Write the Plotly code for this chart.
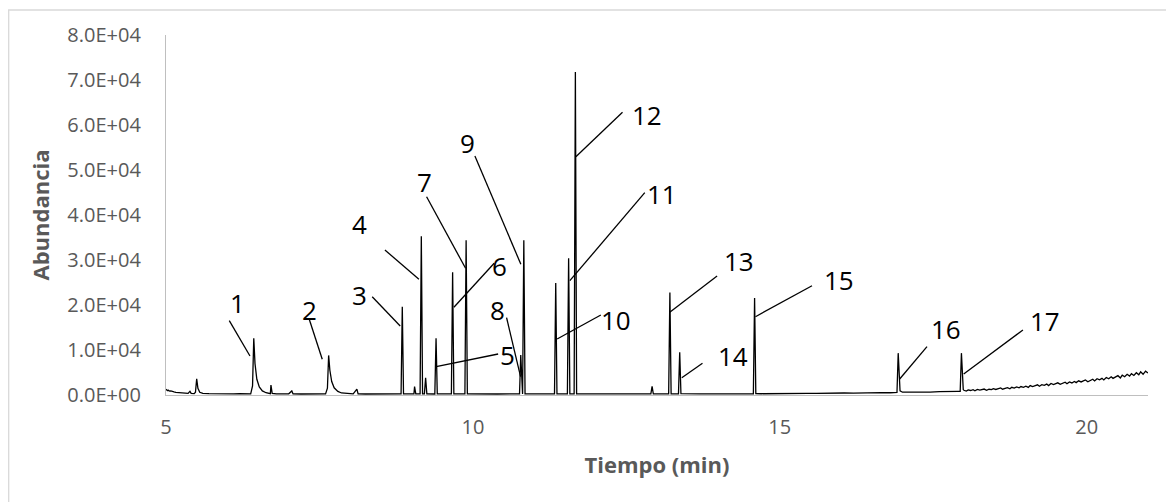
import plotly.graph_objects as go

# ---------------- data ----------------
time_min = [
    5.00, 5.02, 5.04, 5.06, 5.08, 5.10, 5.13, 5.16, 5.20, 5.24, 5.28, 5.32, 5.36, 5.39, 5.41,
    5.46, 5.48, 5.50, 5.52, 5.55, 5.60, 5.70, 5.80, 5.90, 6.00, 6.10, 6.20, 6.30, 6.38,
    6.41, 6.43, 6.45, 6.48, 6.52, 6.57, 6.63, 6.70, 6.71, 6.73, 6.80, 6.90, 7.00, 7.05, 7.07,
    7.20, 7.35, 7.50, 7.60, 7.63, 7.65, 7.67, 7.70, 7.74, 7.80, 7.86, 7.95, 8.05, 8.11, 8.13,
    8.25, 8.40, 8.55, 8.70, 8.83, 8.85, 8.87, 8.98, 9.04, 9.05, 9.07, 9.14, 9.16, 9.18, 9.21,
    9.23, 9.25, 9.38, 9.40, 9.42, 9.65, 9.67, 9.69, 9.87, 9.89, 9.91, 10.00, 10.20, 10.40,
    10.60, 10.76, 10.78, 10.80, 10.81, 10.83, 10.85, 11.00, 11.20, 11.33, 11.35, 11.37,
    11.54, 11.56, 11.58, 11.65, 11.67, 11.69, 11.80, 12.00, 12.30, 12.60, 12.90, 12.92,
    12.94, 13.10, 13.19, 13.21, 13.23, 13.35, 13.37, 13.39, 13.50, 13.70, 13.90, 14.10,
    14.30, 14.50, 14.57, 14.59, 14.61, 14.70, 14.85, 15.00, 15.15, 15.30, 15.45, 15.60,
    15.75, 15.90, 16.05, 16.20, 16.35, 16.50, 16.65, 16.80, 16.91, 16.93, 16.96, 17.00,
    17.15, 17.30, 17.45, 17.60, 17.75, 17.90, 17.94, 17.96, 17.99,
    18.00, 18.04, 18.07, 18.11, 18.15, 18.18, 18.22, 18.26, 18.30, 18.33, 18.37, 18.41,
    18.45, 18.48, 18.52, 18.56, 18.60, 18.63, 18.67, 18.71, 18.75, 18.78, 18.82, 18.86,
    18.90, 18.93, 18.97, 19.01, 19.05, 19.08, 19.12, 19.16, 19.20, 19.23, 19.27, 19.31,
    19.35, 19.38, 19.42, 19.46, 19.50, 19.53, 19.57, 19.61, 19.65, 19.68, 19.72, 19.76,
    19.80, 19.83, 19.87, 19.91, 19.95, 19.98, 20.02, 20.06, 20.10, 20.13, 20.17, 20.21,
    20.25, 20.28, 20.32, 20.36, 20.40, 20.43, 20.47, 20.51, 20.55, 20.58, 20.62, 20.66,
    20.70, 20.73, 20.77, 20.81, 20.85, 20.88, 20.92, 20.96, 21.00,
]
abundance = [
    1300, 1000, 1050, 850, 900, 750, 700, 600, 550, 450, 400, 420, 350, 800, 350,
    300, 600, 3600, 1500, 600, 350, 300, 250, 300, 250, 230, 280, 240, 260,
    2000, 12600, 7000, 3500, 1800, 900, 500, 280, 2200, 350, 260, 220, 260, 900, 250,
    220, 260, 220, 250, 1500, 8800, 5500, 3000, 1600, 800, 450, 300, 250, 1300, 250,
    220, 250, 220, 250, 230, 19600, 250, 230, 240, 1850, 250, 240, 35300, 250, 240,
    3850, 250, 230, 12600, 250, 230, 27300, 250, 240, 34400, 250, 220, 250, 220,
    250, 240, 8900, 400, 250, 34400, 250, 240, 220, 240, 24900, 250,
    240, 30400, 260, 250, 71800, 260, 240, 220, 250, 240, 230, 1900,
    250, 230, 240, 22800, 260, 250, 9500, 300, 240, 270, 240, 280,
    260, 290, 280, 21550, 330, 280, 320, 290, 340, 310, 370, 350,
    410, 380, 450, 420, 490, 460, 530, 500, 560, 9300, 900, 620,
    580, 680, 640, 740, 700, 800, 820, 9300, 1200,
    1050, 880, 1120, 1000, 1180, 940, 1230, 1080, 1150, 1320, 1060, 1280,
    1190, 1420, 1230, 1380, 1560, 1290, 1500, 1640, 1380, 1700, 1520, 1810,
    1600, 1880, 1720, 1950, 1680, 2100, 1860, 2050, 2260, 1940, 2310, 2150,
    2420, 2100, 2560, 2320, 2480, 2700, 2360, 2650, 2840, 2500, 2900, 2680,
    3020, 2750, 3150, 2900, 3080, 3350, 2950, 3300, 3500, 3120, 3620, 3380,
    3700, 3350, 3900, 3600, 4050, 3700, 3950, 4300, 3800, 4400, 4050, 4600,
    4200, 4750, 4350, 4950, 4500, 5150, 4600, 5300, 4900,
]

peak_labels = ["1", "2", "3", "4", "5", "6", "7", "8", "9",
               "10", "11", "12", "13", "14", "15", "16", "17"]

y_tick_values = [0, 10000, 20000, 30000, 40000, 50000, 60000, 70000, 80000]
x_tick_values = [5, 10, 15, 20]

# ---------------- label layout (data coordinates) ----------------
label_pos = [(6.164, 20444), (7.345, 18889), (8.160, 22222), (8.160, 38111),
             (10.570, 8889), (10.440, 28667), (9.218, 47400), (10.399, 18889),
             (9.910, 56111), (12.340, 16667), (13.078, 44667), (12.842, 62222),
             (14.332, 29778), (14.243, 8778), (15.961, 25556), (17.715, 14667),
             (19.316, 16444)]
leader_lines = [((6.031, 16511), (6.368, 8667)), ((7.334, 16822), (7.546, 7933)),
                ((8.360, 21844), (8.816, 15333)), ((8.567, 32222), (9.121, 25711)),
                ((10.412, 9111), (9.402, 6289)), ((10.347, 29267), (9.691, 19489)),
                ((9.246, 44067), (9.881, 28156)), ((10.549, 17178), (10.777, 4067)),
                ((10.033, 53111), (10.782, 29044)), ((12.085, 17778), (11.373, 12444)),
                ((12.801, 44956), (11.580, 25400)), ((12.438, 62822), (11.678, 52956)),
                ((13.979, 26444), (13.208, 18378)), ((13.741, 7044), (13.404, 3844)),
                ((15.526, 24289), (14.604, 17400)), ((17.399, 10733), (16.954, 3556)),
                ((18.962, 14444), (17.997, 4667))]

FONT = "Open Sans"
GRAY = "#595959"

fig = go.Figure()
fig.add_trace(go.Scatter(x=time_min, y=abundance, mode="lines",
                         line=dict(color="black", width=1.3), hoverinfo="skip",
                         showlegend=False))

shapes = []
for (x0, y0), (x1, y1) in leader_lines:
    shapes.append(dict(type="line", xref="x", yref="y", x0=x0, y0=y0, x1=x1, y1=y1,
                       line=dict(color="black", width=1.3)))
# outer chart border (page body has an 8px margin)
shapes.append(dict(type="rect", xref="paper", yref="paper", x0=-0.1602, y0=-0.5,
                   x1=1.2, y1=1.0694, line=dict(color="#d9d9d9", width=1.3),
                   layer="below"))

annotations = []
for txt, (x, y) in zip(peak_labels, label_pos):
    annotations.append(dict(x=x, y=y, xref="x", yref="y", text=txt, showarrow=False,
                            font=dict(family=FONT, size=26, color="black"),
                            xanchor="center", yanchor="middle"))

fig.update_layout(
    width=1166, height=494,
    margin=dict(l=158, r=26, t=27, b=107),
    paper_bgcolor="white", plot_bgcolor="white",
    shapes=shapes, annotations=annotations,
    xaxis=dict(range=[5, 21], tickvals=x_tick_values,
               ticktext=[str(v) for v in x_tick_values],
               showgrid=False, zeroline=False, showline=True, linecolor="#bfbfbf",
               linewidth=1.3, ticks="", ticklabelstandoff=14,
               tickfont=dict(family=FONT, size=20, color=GRAY),
               title=dict(text="<b>Tiempo (min)</b>", standoff=18,
                          font=dict(family=FONT, size=22, color=GRAY))),
    yaxis=dict(range=[0, 80000], tickvals=y_tick_values,
               ticktext=[f"{v:.1E}" for v in y_tick_values],
               showgrid=False, zeroline=False, showline=True, linecolor="#bfbfbf",
               linewidth=1.3, ticks="", ticklabelstandoff=20,
               tickfont=dict(family=FONT, size=20, color=GRAY),
               title=dict(text="<b>Abundancia</b>", standoff=11,
                          font=dict(family=FONT, size=22, color=GRAY))),
)

fig.write_html("out.html")
